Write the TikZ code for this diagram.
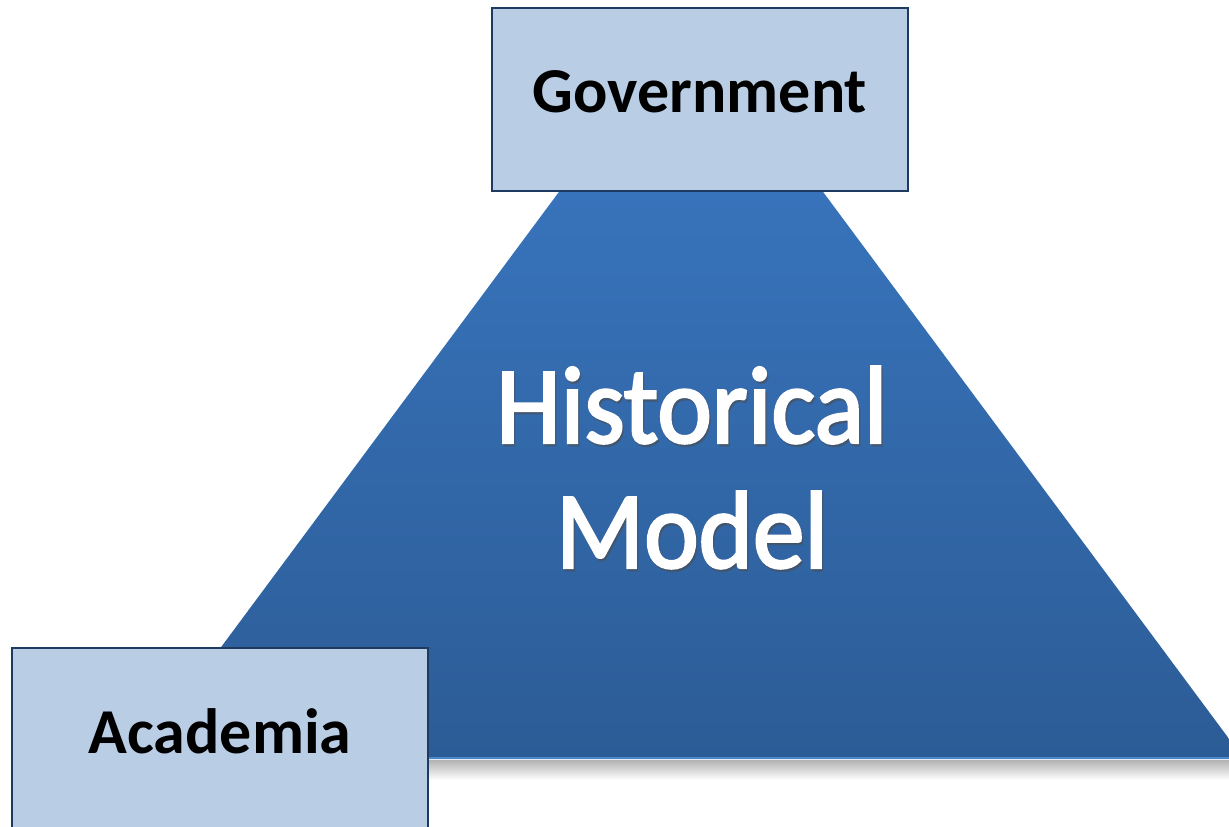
\documentclass[tikz,border=0pt]{standalone}
\usepackage{fontspec}
\setmainfont{Carlito}
\newfontfamily\hmfont[FakeBold=2.2, FakeStretch=0.94]{Carlito}
\definecolor{boxfill}{HTML}{B9CDE5}
\definecolor{boxline}{HTML}{1F3A60}
\definecolor{tritop}{HTML}{3B7AC6}
\definecolor{tribot}{HTML}{2C5C96}
\definecolor{triedge}{HTML}{4A87CB}
\tikzset{
  actor/.style={draw=boxline, line width=1pt, fill=boxfill,
    minimum width=208pt, minimum height=91.5pt, inner sep=0pt, text depth=8pt,
    font=\fontsize{32}{38}\selectfont\bfseries},
  modeltext/.style={align=center, font=\hmfont\fontsize{55}{62.5}\selectfont}
}
\begin{document}
\begin{tikzpicture}[x=0.5pt,y=-0.5pt]
  \useasboundingbox (0,0) rectangle (1229,826);
  \clip (0,0) rectangle (1229,826);
  \shade[top color=black!30, bottom color=white] (140,760) rectangle (1244,780);
  \shade[top color=tritop, bottom color=tribot] (691,14) -- (1244,759) -- (138,759) -- cycle;
  \draw[triedge, line width=1pt] (139,758) -- (1243,758);
  \node[modeltext, text=black!70, opacity=0.45] (hmshadow) at (693.5,470) {Historical\\Model};
  \node[modeltext, text=white] (hm) at (692,467.5) {Historical\\Model};
  \node[actor] (gov) at (700,99.5) {Government};
  \node[actor] (acad) at (220,739.5) {Academia};
\end{tikzpicture}
\end{document}
